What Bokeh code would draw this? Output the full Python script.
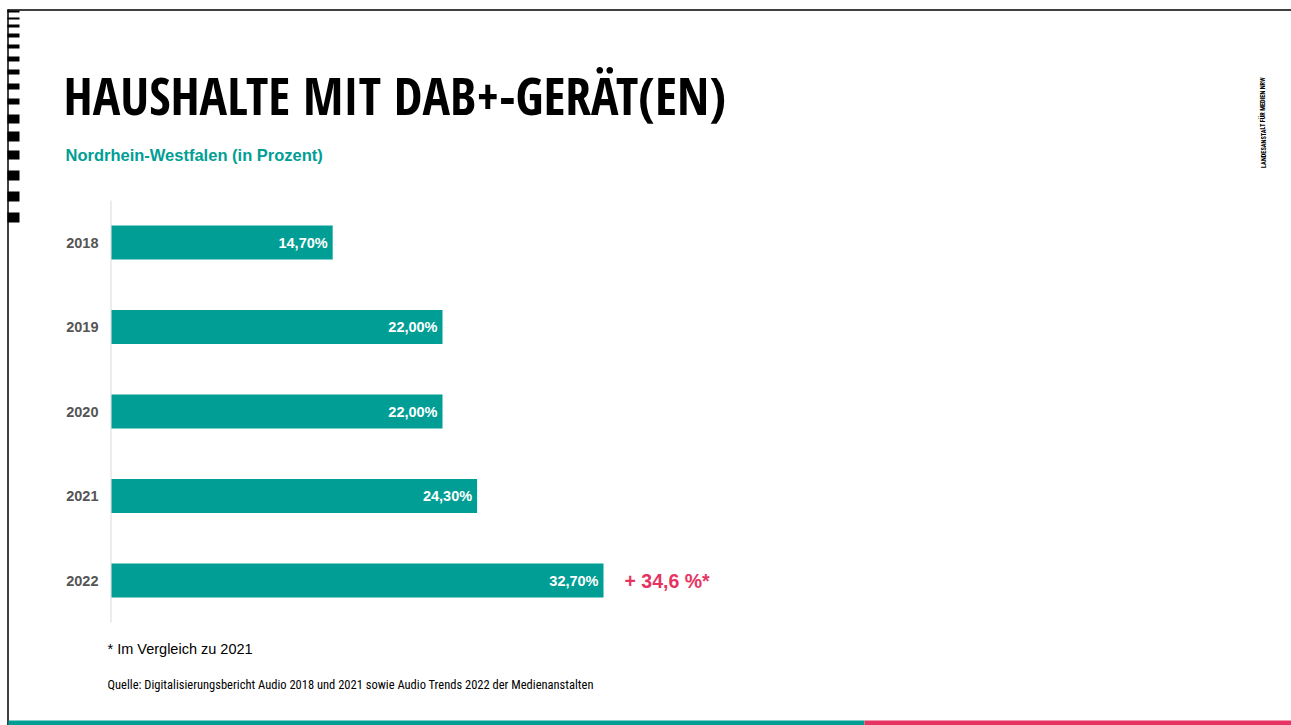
from bokeh.plotting import figure
from bokeh.models import Range1d, ColumnDataSource
from bokeh.core.properties import value
from bokeh.embed import file_html
from bokeh.resources import INLINE

# ---- data ----
years = ["2018", "2019", "2020", "2021", "2022"]
shares = [14.7, 22.0, 22.0, 24.3, 32.7]
share_labels = ["14,70%", "22,00%", "22,00%", "24,30%", "32,70%"]
change_label = "+ 34,6 %*"
title = "HAUSHALTE MIT DAB+-GERÄT(EN)"
subtitle = "Nordrhein-Westfalen (in Prozent)"
footnote = "* Im Vergleich zu 2021"
source_txt = "Quelle: Digitalisierungsbericht Audio 2018 und 2021 sowie Audio Trends 2022 der Medienanstalten"
brand = "LANDESANSTALT FÜR MEDIEN NRW"

# ---- layout / style ----
W, H = 1291, 725
TEAL = "#009E94"
PINK = "#E63462"
GRAY = "#555555"
bar_x0 = 111
px_per_pct = 492 / 32.7
row0, row_step = 242, 84.5
bar_h = 34 / row_step

p = figure(width=W, height=H, x_range=Range1d(0, W), y_range=Range1d(H, 0),
           min_border=0, toolbar_location=None, output_backend="svg",
           x_axis_type=None, y_axis_type=None, outline_line_color=None,
           background_fill_color="white", border_fill_color="white")
p.extra_x_ranges = {"pct": Range1d(-bar_x0 / px_per_pct, (W - bar_x0) / px_per_pct)}
p.extra_y_ranges = {"row": Range1d((H - row0) / row_step, -row0 / row_step)}

src = ColumnDataSource(dict(i=list(range(len(years))), year=years,
                            share=shares, lab=share_labels))

# frame decorations
p.segment(x0=7, y0=9.5, x1=W, y1=9.5, line_color="black", line_width=1.5)
p.segment(x0=7.5, y0=9, x1=7.5, y1=H, line_color="black", line_width=1.5)
sq_top = [10, 17, 24, 33, 44, 56, 69, 83, 98, 114, 131, 150, 170, 191, 212]
sq_bot = [12, 19, 27, 37, 48, 61, 74, 89, 104, 123, 141, 159, 180, 201, 222]
p.quad(left=7, right=19, top=sq_top, bottom=sq_bot, fill_color="black", line_color=None)
p.quad(left=8, right=864, top=720, bottom=H, fill_color=TEAL, line_color=None)
p.quad(left=864, right=W, top=720, bottom=H, fill_color=PINK, line_color=None)

# axis line
p.segment(x0=110.5, y0=200, x1=110.5, y1=622, line_color="#D9D9D9", line_width=1)

# bars
p.hbar(y="i", left=0, right="share", height=bar_h, source=src,
       x_range_name="pct", y_range_name="row", fill_color=TEAL, line_color=None)

# value labels
p.text(x="share", y="i", text="lab", source=src, x_range_name="pct", y_range_name="row",
       x_offset=-5, text_align="right", text_baseline="middle", text_color="white",
       text_font=value("Liberation Sans"), text_font_style="bold", text_font_size="14.5px")

# year labels
p.text(x=98, y="i", text="year", source=src, y_range_name="row",
       text_align="right", text_baseline="middle", text_color=GRAY,
       text_font=value("Liberation Sans"), text_font_style="bold", text_font_size="14.5px")

# change label
p.text(x=[shares[-1]], y=[len(years) - 1], text=[change_label], x_range_name="pct", y_range_name="row",
       x_offset=21, text_align="left", text_baseline="middle", text_color=PINK,
       text_font=value("Liberation Sans"), text_font_style="bold", text_font_size="19.5px")

# titles and notes
p.text(x=[63], y=[94], text=[title], text_align="left", text_baseline="alphabetic",
       text_color="black", text_font=value("Open Sans Condensed"), text_font_style="bold",
       text_font_size="51.5px")
p.text(x=[65], y=[154], text=[subtitle], text_align="left", text_baseline="middle",
       text_color=TEAL, text_font=value("Liberation Sans"), text_font_style="bold",
       text_font_size="16.5px")
p.text(x=[107], y=[648], text=[footnote], text_align="left", text_baseline="middle",
       text_color="black", text_font=value("Liberation Sans"), text_font_size="14.5px")
p.text(x=[107], y=[684], text=[source_txt], text_align="left", text_baseline="middle",
       text_color="black", text_font=value("Roboto Condensed"), text_font_size="12.5px")
p.text(x=[1263], y=[122], text=[brand], angle=1.5708, text_align="center", text_baseline="middle",
       text_color="black", text_font=value("Roboto Condensed"), text_font_style="bold",
       text_font_size="6.3px")

open("out.html", "w").write(file_html(p, INLINE))
